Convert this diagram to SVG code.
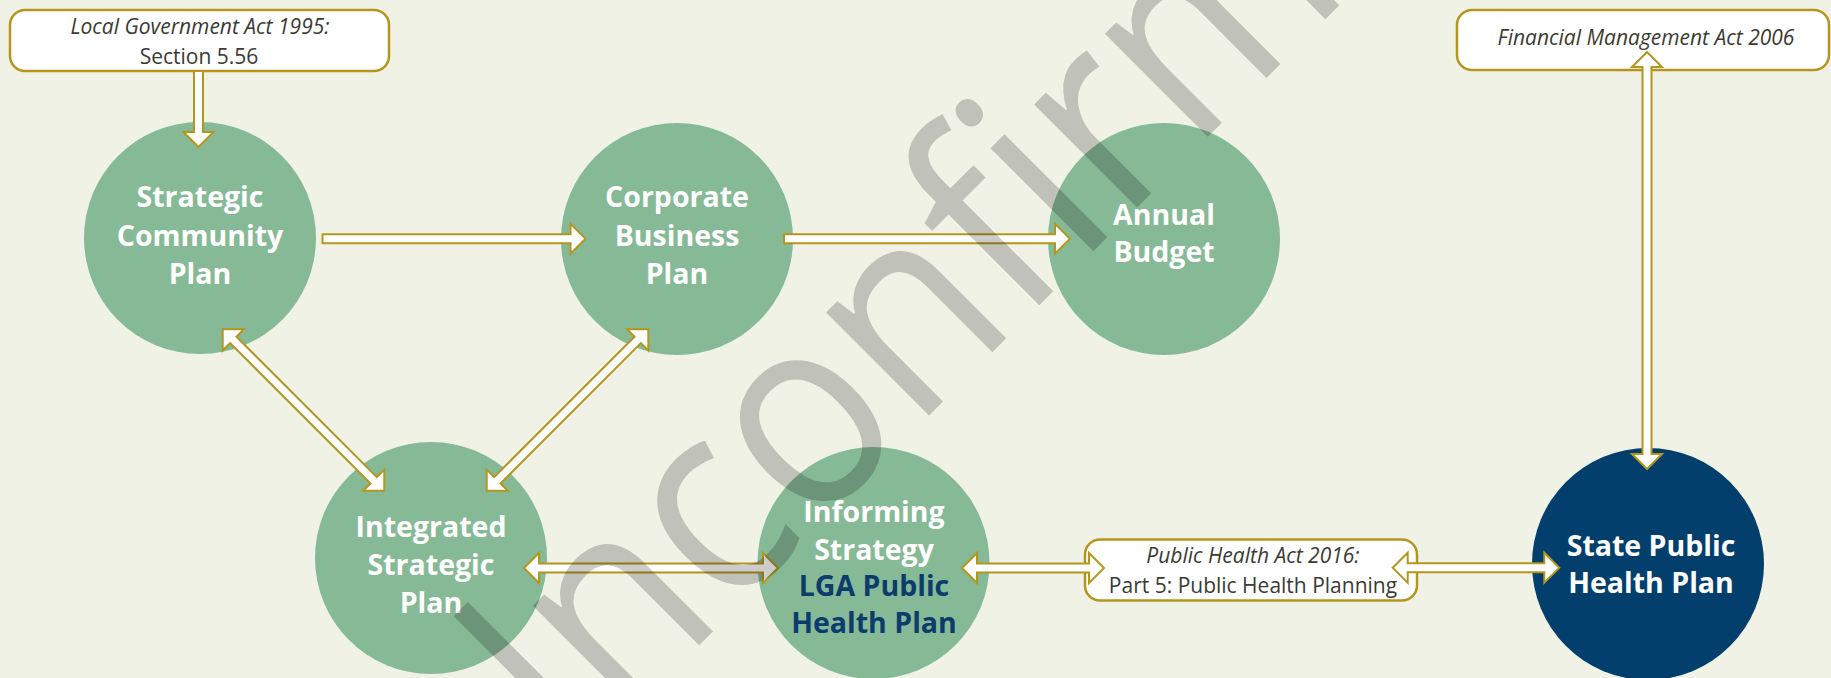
<svg xmlns="http://www.w3.org/2000/svg" width="1831" height="678" viewBox="0 0 1831 678">
<style>
.bg{fill:#f0f2e6}
.c{fill:#86ba96}
.cn{fill:#033f6d}
.lbl{font-family:"Open Sans","Liberation Sans",sans-serif;font-weight:700;font-size:28.5px;fill:#fff;text-anchor:middle}
.nv{fill:#0b3c6c}
.box{fill:#fff;stroke:#b4961e;stroke-width:2.5}
.act{font-family:"Open Sans","Liberation Sans",sans-serif;font-size:21px;fill:#3b3b33;text-anchor:middle}
.it{font-style:italic}
.ar{fill:#fff;stroke:#b4961e;stroke-width:2;stroke-linejoin:miter}
.wm{font-family:"Open Sans","Liberation Sans",sans-serif;font-size:272px;fill:#000;fill-opacity:0.2}
</style>
<rect class="bg" x="0" y="0" width="1831" height="678"/>
<g id="lga-act">
<rect class="box" x="10" y="10" width="379" height="61" rx="15"/>
<text class="act it" x="200" y="34">Local Government Act 1995:</text>
<text class="act" x="199" y="64">Section 5.56</text>
</g>
<g id="fma-act">
<rect class="box" x="1457" y="10" width="372" height="60" rx="15"/>
<text class="act it" x="1646" y="45">Financial Management Act 2006</text>
</g>
<g id="pha-act">
<rect class="box" x="1085" y="539.5" width="332" height="61" rx="15"/>
<text class="act it" x="1253" y="563">Public Health Act 2016:</text>
<text class="act" x="1253" y="593">Part 5: Public Health Planning</text>
</g>
<g id="strategic-community-plan">
<circle class="c" cx="200" cy="238" r="116"/>
<text class="lbl" x="200" y="207">Strategic</text>
<text class="lbl" x="200" y="246">Community</text>
<text class="lbl" x="200" y="284">Plan</text>
</g>
<g id="corporate-business-plan">
<circle class="c" cx="677" cy="239" r="116"/>
<text class="lbl" x="677" y="207">Corporate</text>
<text class="lbl" x="677" y="246">Business</text>
<text class="lbl" x="677" y="284">Plan</text>
</g>
<g id="annual-budget">
<circle class="c" cx="1164" cy="239" r="116"/>
<text class="lbl" x="1164" y="225">Annual</text>
<text class="lbl" x="1164" y="262">Budget</text>
</g>
<g id="integrated-strategic-plan">
<circle class="c" cx="431" cy="558" r="116"/>
<text class="lbl" x="431" y="537">Integrated</text>
<text class="lbl" x="431" y="575">Strategic</text>
<text class="lbl" x="431" y="613">Plan</text>
</g>
<g id="informing-strategy">
<circle class="c" cx="873.5" cy="563" r="116"/>
<text class="lbl" x="874" y="522">Informing</text>
<text class="lbl" x="874" y="560">Strategy</text>
<text class="lbl nv" x="874" y="596">LGA Public</text>
<text class="lbl nv" x="874" y="633">Health Plan</text>
</g>
<g id="state-public-health-plan">
<circle class="cn" cx="1648" cy="564" r="116"/>
<text class="lbl" x="1651" y="556">State Public</text>
<text class="lbl" x="1651" y="593">Health Plan</text>
</g>
<g id="connectors">
<path class="ar" transform="translate(198.5,71) rotate(90)" d="M0,-4.5 H61 V-15 L76,0 L61,15 V4.5 H0 Z"/>
<path class="ar" transform="translate(322.5,238.8)" d="M0,-4.5 H248 V-15 L263,0 L248,15 V4.5 H0 Z"/>
<path class="ar" transform="translate(784,238.8)" d="M0,-4.5 H271 V-15 L286,0 L271,15 V4.5 H0 Z"/>
<path class="ar" transform="translate(1647,52) rotate(90)" d="M0,0 L15,-15 V-4.5 H402 V-15 L417,0 L402,15 V4.5 H15 V15 Z"/>
<path class="ar" transform="translate(222.7,329.3) rotate(45)" d="M0,0 L15,-15 V-4.5 H213.5 V-15 L228.5,0 L213.5,15 V4.5 H15 V15 Z"/>
<path class="ar" transform="translate(648.3,329.3) rotate(135)" d="M0,0 L15,-15 V-4.5 H213.5 V-15 L228.5,0 L213.5,15 V4.5 H15 V15 Z"/>
<path class="ar" transform="translate(524,568)" d="M0,0 L15,-15 V-4.5 H239 V-15 L254,0 L239,15 V4.5 H15 V15 Z"/>
<path class="ar" transform="translate(962,568)" d="M0,0 L15,-15 V-4.5 H127 V-15 L142,0 L127,15 V4.5 H15 V15 Z"/>
<path class="ar" transform="translate(1392.7,567.7)" d="M0,0 L15,-15 V-4.5 H151.6 V-15 L166.6,0 L151.6,15 V4.5 H15 V15 Z"/>
</g>
<text class="wm" transform="translate(494.8,849.7) rotate(-45) scale(0.9,1)">Unconfirmed</text>
</svg>
